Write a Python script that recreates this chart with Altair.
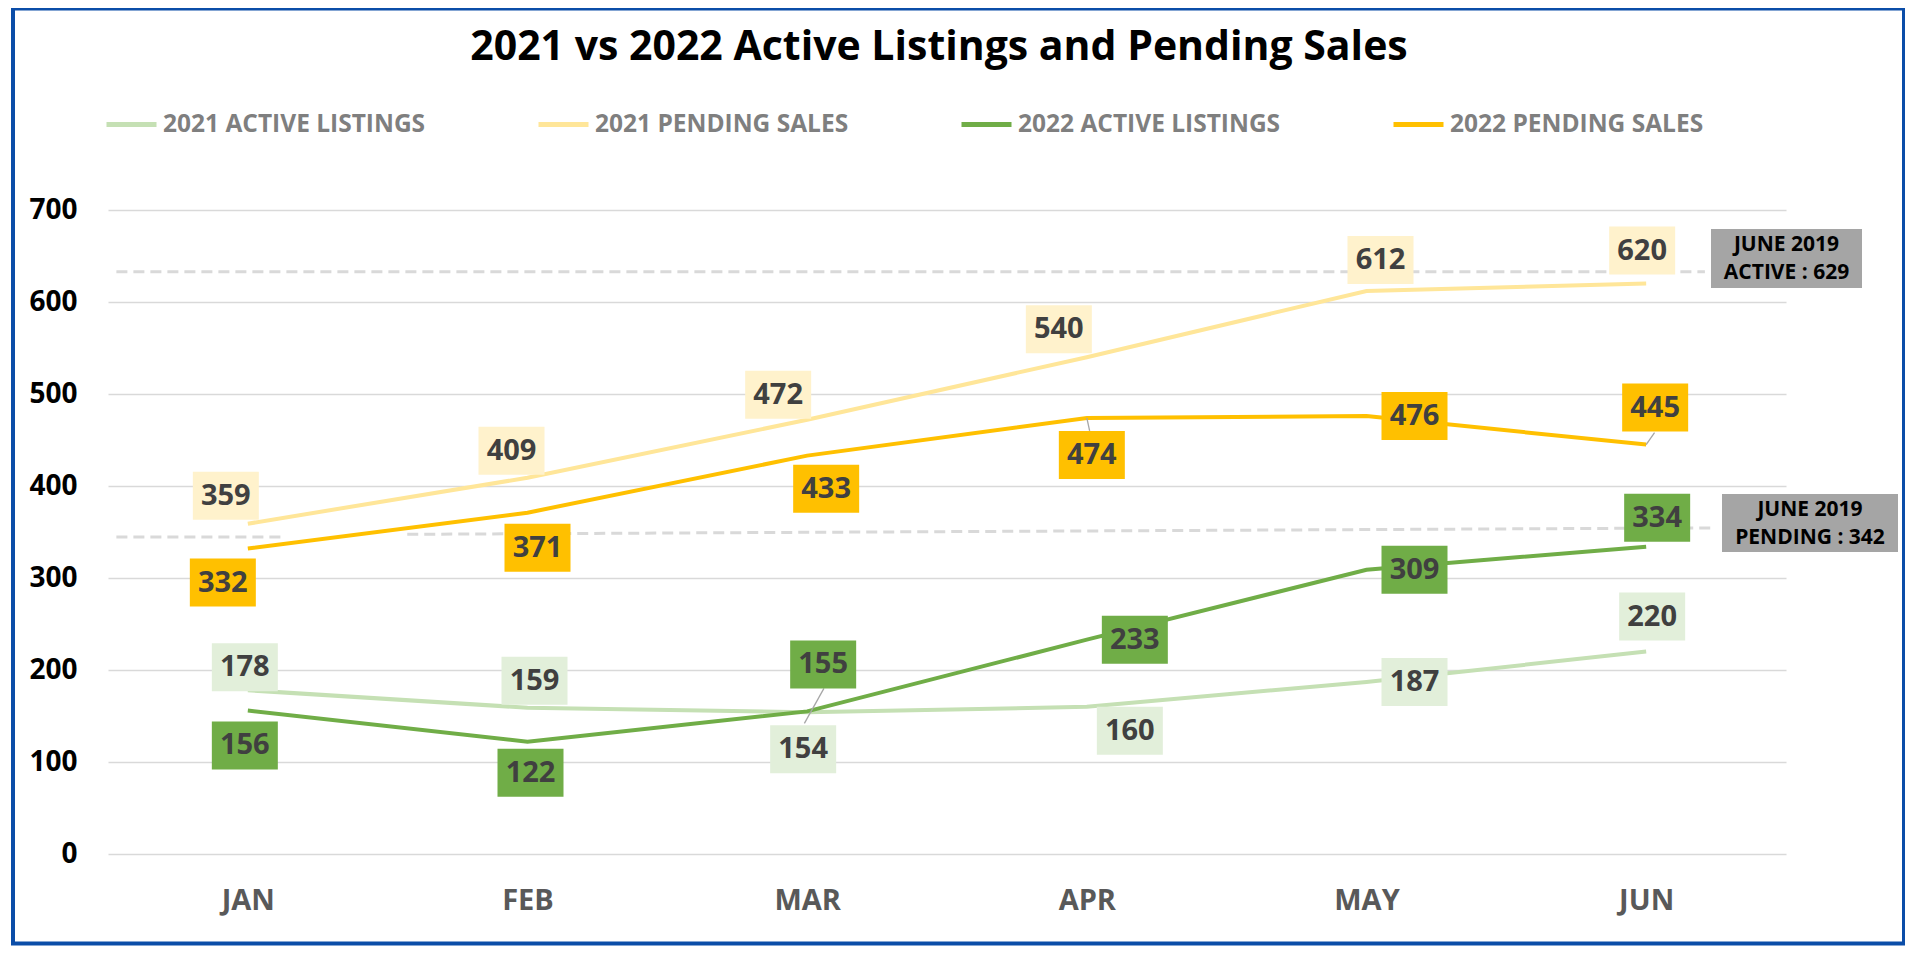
import json
import altair as alt
import pandas as pd

# ---------------- data ----------------
months = ["JAN", "FEB", "MAR", "APR", "MAY", "JUN"]
series_names = ["2021 ACTIVE LISTINGS", "2021 PENDING SALES",
                "2022 ACTIVE LISTINGS", "2022 PENDING SALES"]
active_2021 = [178, 159, 154, 160, 187, 220]
pending_2021 = [359, 409, 472, 540, 612, 620]
active_2022 = [156, 122, 155, 233, 309, 334]
pending_2022 = [332, 371, 433, 474, 476, 445]
series_values = [active_2021, pending_2021, active_2022, pending_2022]

line_colors = ["#C5E0B4", "#FFE699", "#70AD47", "#FFC000"]
box_colors = ["#E2EFDA", "#FFF2CC", "#70AD47", "#FFC000"]

# data-label placement offsets (pixels) per series, per month
label_dx = [[-3, 7, -4, 43, 48, 6],
            [-22, -16, -29, -28, 14, -4],
            [-3, 3, 16, 48, 48, 11],
            [-25, 10, 19, 5, 48, 9]]
label_dy = [[-23, -27, 37, 24, 0, -35],
            [-28, -27, -25, -28, -31, -33],
            [35, 31, -47, 0, 0, -29],
            [34, 35, 33, 37, 0, -37]]

# reference (June 2019) dashed lines, as drawn: x in month-index units
ref_x = [-0.47, -0.47, 0.57]
ref_x2 = [5.21, 0.13, 5.24]
ref_y = [633, 344.6, 347.5]
ref_y2 = [633, 344.6, 354.5]
ref_labels = [["JUNE 2019", "ACTIVE : 629"], ["JUNE 2019", "PENDING : 342"]]

# leader lines (month-index, value)
lead_x = [1.99, 3.0, 5.0]
lead_x2 = [2.06, 3.01, 5.03]
lead_y = [142, 474, 445]
lead_y2 = [180, 460, 458]

title_text = "2021 vs 2022 Active Listings and Pending Sales"

# ---------------- tables ----------------
rows = []
for si, name in enumerate(series_names):
    for mi, v in enumerate(series_values[si]):
        rows.append({"series": name, "m": mi, "value": v,
                     "dx": label_dx[si][mi], "dy": label_dy[si][mi],
                     "bg": box_colors[si]})
df = pd.DataFrame(rows)
ref_df = pd.DataFrame({"x": ref_x, "x2": ref_x2, "y": ref_y, "y2": ref_y2})
lead_df = pd.DataFrame({"x": lead_x, "x2": lead_x2, "y": lead_y, "y2": lead_y2})
one = pd.DataFrame({"k": [0]})

W, H = 1678, 644
X_MIN, X_MAX, Y_MAX = -0.5, 5.5, 700
PX_X = W / (X_MAX - X_MIN)   # pixels per month
PX_Y = H / Y_MAX             # pixels per unit
FONT = "Open Sans"

xscale = alt.Scale(domain=[X_MIN, X_MAX], nice=False, zero=False)
yscale = alt.Scale(domain=[0, Y_MAX], nice=False)
xaxis = alt.Axis(values=list(range(6)), labelExpr=f"{json.dumps(months)}[datum.value]",
                 grid=False, domain=False, ticks=False, title=None,
                 labelFont=FONT, labelFontWeight="bold", labelFontSize=29,
                 labelColor="#595959", labelPadding=32)
yaxis = alt.Axis(values=list(range(0, 701, 100)), grid=True, gridColor="#D9D9D9",
                 gridWidth=1.5, domain=False, ticks=False, title=None,
                 labelFont=FONT, labelFontWeight="bold", labelFontSize=28,
                 labelColor="#000000", labelPadding=31)

X = alt.X("m:Q", scale=xscale, axis=xaxis)
Y = alt.Y("value:Q", scale=yscale, axis=yaxis)

base = alt.Chart(df)

lines = base.mark_line(strokeWidth=4).encode(
    x=X, y=Y,
    color=alt.Color("series:N", sort=series_names,
                    scale=alt.Scale(domain=series_names, range=line_colors),
                    legend=alt.Legend(orient="none", legendX=-4, legendY=-113,
                                      direction="horizontal", columns=4, title=None,
                                      symbolType="stroke", symbolSize=2500,
                                      symbolStrokeWidth=5, labelFont=FONT,
                                      labelFontWeight="bold", labelFontSize=24.5,
                                      labelColor="#7F7F7F", labelLimit=500,
                                      columnPadding=102, labelOffset=4)),
)

refs = alt.Chart(ref_df).mark_rule(strokeDash=[11, 6], strokeWidth=3, color="#D9D9D9").encode(
    x=alt.X("x:Q", scale=xscale), x2="x2:Q", y=alt.Y("y:Q", scale=yscale), y2="y2:Q")

leaders = alt.Chart(lead_df).mark_rule(strokeWidth=1.3, color="#A6A6A6").encode(
    x=alt.X("x:Q", scale=xscale), x2="x2:Q", y=alt.Y("y:Q", scale=yscale), y2="y2:Q")

labels_base = base.transform_calculate(
    lx=f"datum.m + datum.dx / {PX_X}",
    ly=f"datum.value - datum.dy / {PX_Y}",
)
LX = alt.X("lx:Q", scale=xscale, axis=xaxis)
LY = alt.Y("ly:Q", scale=yscale, axis=yaxis)

box_path = "M-1,-0.7273L1,-0.7273L1,0.7273L-1,0.7273Z"
boxes = labels_base.mark_point(shape=box_path, size=66 * 66, filled=True, opacity=1,
                               strokeWidth=0).encode(
    x=LX, y=LY, fill=alt.Fill("bg:N", scale=None))

texts = labels_base.mark_text(font=FONT, fontWeight="bold", fontSize=29, color="#404040",
                              align="center", baseline="middle").encode(
    x=LX, y=LY, text="value:Q")

# annotation boxes (pixel positions relative to plot area)
ann_rects = [
    alt.Chart(one).mark_rect(color="#A5A5A5").encode(
        x=alt.value(1603), x2=alt.value(1754), y=alt.value(19), y2=alt.value(78)),
    alt.Chart(one).mark_rect(color="#A5A5A5").encode(
        x=alt.value(1614), x2=alt.value(1790), y=alt.value(284), y2=alt.value(342)),
]
ann_texts = []
for (cx, ys), lab in zip([(1678.5, (35, 63)), (1702, (300, 328))], ref_labels):
    for yy, t in zip(ys, lab):
        ann_texts.append(
            alt.Chart(one).mark_text(text=t, font=FONT, fontWeight="bold", fontSize=21,
                                     color="#000000", align="center", baseline="middle").encode(
                x=alt.value(cx), y=alt.value(yy)))

title = alt.Chart(one).mark_text(text=title_text, font=FONT, fontWeight="bold", fontSize=41,
                                 color="#000000", align="center",
                                 baseline="alphabetic").encode(
    x=alt.value(831), y=alt.value(-150))

border = alt.Chart(one).mark_rect(fillOpacity=0, stroke="#0B4DA8", strokeWidth=4).encode(
    x=alt.value(-95), x2=alt.value(1796), y=alt.value(-201.5), y2=alt.value(733.5))

chart = alt.layer(refs, lines, leaders, boxes, texts, *ann_rects, *ann_texts, title, border).properties(
    width=W, height=H,
    autosize=alt.AutoSizeParams(type="none"),
    padding={"left": 100, "top": 202, "right": 119, "bottom": 93},
    background="white",
).configure_view(stroke=None)

chart.save("out.html", embed_options={"renderer": "svg", "actions": False})
